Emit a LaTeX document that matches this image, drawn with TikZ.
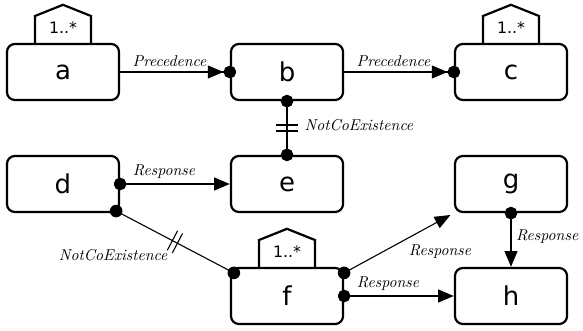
\documentclass[tikz,border=0pt]{standalone}
\usepackage{fontspec}
\setsansfont{DejaVu Sans}
\usepackage{tikz}
\usetikzlibrary{arrows.meta,decorations.markings}
\tikzstyle{activity} = [rectangle, rounded corners=5pt, minimum width=2.5cm, minimum height=1.25cm, text centered, draw=black, line width=1.4pt, font=\sffamily\fontsize{16.5}{19}\selectfont]
\tikzstyle{card} = [line width=1.4pt]
\tikzstyle{lbl} = [font=\itshape, inner sep=2.5pt]
\tikzstyle{thinline} = [line width=0.7pt]
\tikzstyle{precedence} = [line width=1.4pt, -{Triangle[length=10pt,width=8pt]Circle[length=8pt]}, shorten >=-4pt]
\tikzstyle{response} = [line width=1.4pt, {Circle[length=8pt]}-{Triangle[length=10pt,width=8pt]}, shorten <=-4pt]
\tikzstyle{notco} = [line width=1.4pt, {Circle[length=8pt]}-{Circle[length=8pt]}, shorten <=-4pt, shorten >=-4pt,
  postaction={decorate, decoration={markings, mark=at position 0.5 with {\draw[-, shorten <=0pt, shorten >=0pt] (-1.8pt,-7pt) -- (-1.8pt,7pt) (1.8pt,-7pt) -- (1.8pt,7pt);}}}]

\begin{document}
\begin{tikzpicture}[node distance=2.5cm]
\useasboundingbox (-1.406,-5.781) rectangle (11.607,1.607);
 \node (a) [activity] {a};
  \node (b) [activity,right of=a,xshift=2.5cm] {b};
  \node (c) [activity,right of=b,xshift=2.5cm] {c};
\node (d) [activity,below of=a] {d};
\node (e) [activity,right of=d,xshift=2.5cm] {e};
\node (g) [activity,right of=e,xshift=2.5cm] {g};
\node (f) [activity,below of=e] {f};
\node (h) [activity,right of=f,xshift=2.5cm] {h};
% multiplicity tags
\foreach \n in {a,c,f}{
  \draw [card] ([xshift=-0.625cm]\n.north) -- ++(0,0.6) -- ([yshift=0.85cm]\n.north) -- ([xshift=0.625cm,yshift=0.6cm]\n.north) -- ([xshift=0.625cm]\n.north);
  \node (m\n) [font=\sffamily] at ([yshift=0.33cm]\n.north) {1..*};
}
\draw [precedence] (a) -- node[lbl,above,pos=0.45] {Precedence} (b);
\draw [precedence] (b) -- node[lbl,above,pos=0.45] {Precedence} (c);
\draw [notco] (b) -- node[lbl,right=8pt,yshift=2pt] {NotCoExistence} (e);
\draw [response] (d) -- node[lbl,above,pos=0.4] {Response} (e);
\draw [notco,thinline] ([xshift=-2.5pt,yshift=1.3pt]d.south east) -- node[lbl,below left=2pt] {NotCoExistence} ([xshift=2.5pt,yshift=-3.8pt]f.north west);
\draw [response,thinline,shorten >=2.5pt] ([yshift=-3.8pt]f.north east) -- node[lbl,below right,pos=0.55] {Response} (g.south west);
\draw [response] (f) -- node[lbl,above,pos=0.4] {Response} (h);
\draw [response] (g) -- node[lbl,right,yshift=2pt] {Response} (h);
  \end{tikzpicture}
\end{document}
